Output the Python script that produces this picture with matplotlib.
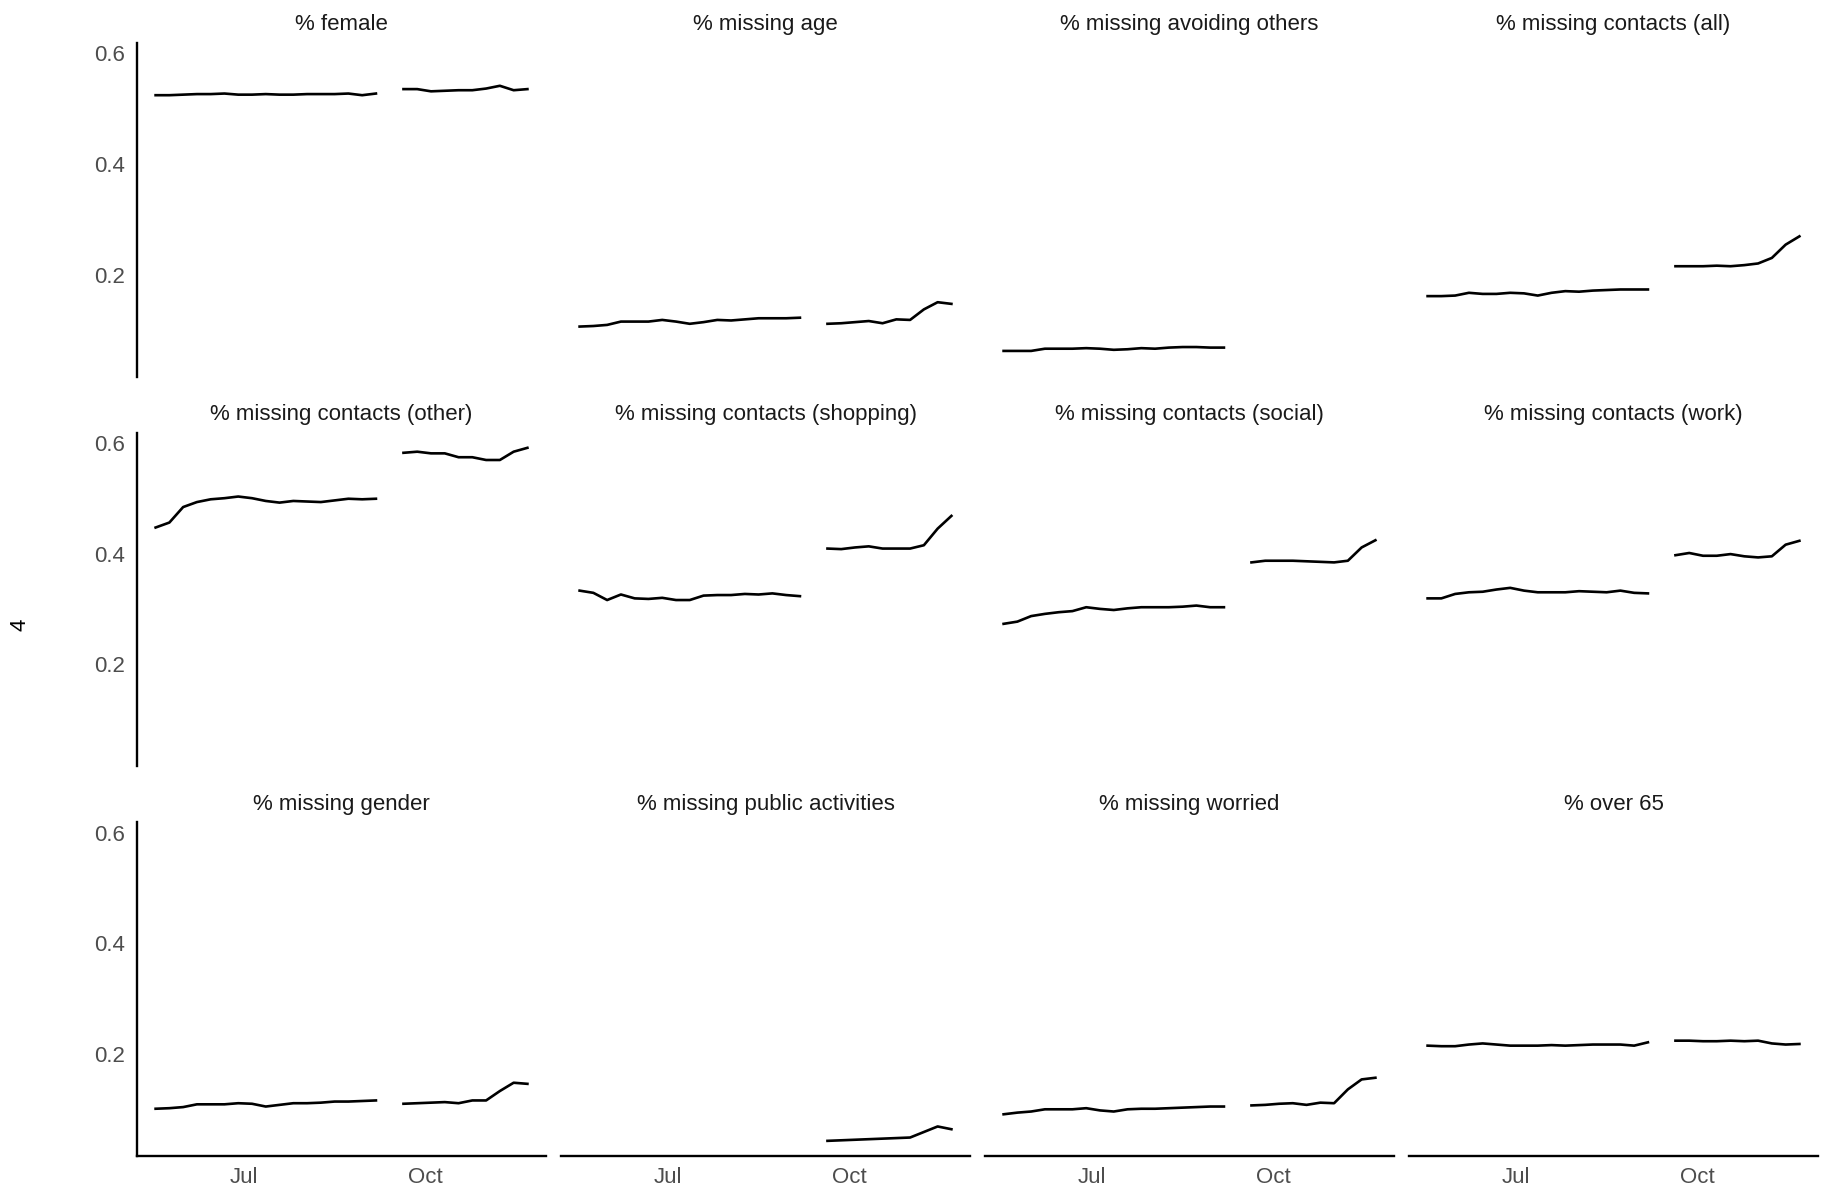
import numpy as np
import pandas as pd
import matplotlib
matplotlib.use("Agg")
import matplotlib.pyplot as plt
import matplotlib.dates as mdates

plt.rcParams['font.family'] = ['Liberation Sans', 'DejaVu Sans']

nan = np.nan

# weekly survey dates, week of 13 Sep has no data
weeks = pd.date_range('2020-05-17', periods=28, freq='7D')

titles = ['% female', '% missing age', '% missing avoiding others', '% missing contacts (all)',
          '% missing contacts (other)', '% missing contacts (shopping)', '% missing contacts (social)',
          '% missing contacts (work)', '% missing gender', '% missing public activities',
          '% missing worried', '% over 65']

female = [0.524, 0.524, 0.525, 0.526, 0.526, 0.527, 0.525, 0.525, 0.526, 0.525, 0.525, 0.526, 0.526, 0.526,
          0.527, 0.524, 0.527, nan,
          0.535, 0.535, 0.531, 0.532, 0.533, 0.533, 0.536, 0.541, 0.533, 0.535]
missing_age = [0.106, 0.107, 0.109, 0.115, 0.115, 0.115, 0.118, 0.115, 0.111, 0.114, 0.118, 0.117, 0.119, 0.121,
               0.121, 0.121, 0.122, nan,
               0.111, 0.112, 0.114, 0.116, 0.112, 0.119, 0.118, 0.137, 0.150, 0.147]
missing_avoiding = [0.062, 0.062, 0.062, 0.066, 0.066, 0.066, 0.067, 0.066, 0.064, 0.065, 0.067, 0.066, 0.068,
                    0.069, 0.069, 0.068, 0.068, nan,
                    nan, nan, nan, nan, nan, nan, nan, nan, nan, nan]
missing_contacts_all = [0.161, 0.161, 0.162, 0.167, 0.165, 0.165, 0.167, 0.166, 0.162, 0.167, 0.170, 0.169,
                        0.171, 0.172, 0.173, 0.173, 0.173, nan,
                        0.215, 0.215, 0.215, 0.216, 0.215, 0.217, 0.220, 0.230, 0.254, 0.269]
missing_contacts_other = [0.447, 0.456, 0.484, 0.493, 0.498, 0.500, 0.503, 0.500, 0.495, 0.492, 0.495, 0.494,
                          0.493, 0.496, 0.499, 0.498, 0.499, nan,
                          0.582, 0.584, 0.581, 0.581, 0.574, 0.574, 0.569, 0.569, 0.584, 0.591]
missing_contacts_shopping = [0.333, 0.329, 0.316, 0.326, 0.319, 0.318, 0.320, 0.316, 0.316, 0.324, 0.325,
                             0.325, 0.327, 0.326, 0.328, 0.325, 0.323, nan,
                             0.409, 0.408, 0.411, 0.413, 0.409, 0.409, 0.409, 0.415, 0.445, 0.468]
missing_contacts_social = [0.273, 0.277, 0.287, 0.291, 0.294, 0.296, 0.303, 0.300, 0.298, 0.301, 0.303, 0.303,
                           0.303, 0.304, 0.306, 0.303, 0.303, nan,
                           0.384, 0.387, 0.387, 0.387, 0.386, 0.385, 0.384, 0.387, 0.411, 0.424]
missing_contacts_work = [0.319, 0.319, 0.327, 0.330, 0.331, 0.335, 0.338, 0.333, 0.330, 0.330, 0.330, 0.332,
                         0.331, 0.330, 0.333, 0.329, 0.328, nan,
                         0.397, 0.401, 0.396, 0.396, 0.399, 0.395, 0.393, 0.395, 0.416, 0.423]
missing_gender = [0.101, 0.102, 0.104, 0.109, 0.109, 0.109, 0.111, 0.110, 0.105, 0.108, 0.111, 0.111, 0.112,
                  0.114, 0.114, 0.115, 0.116, nan,
                  0.110, 0.111, 0.112, 0.113, 0.111, 0.116, 0.116, 0.133, 0.148, 0.146]
missing_public = [nan, nan, nan, nan, nan, nan, nan, nan, nan, nan, nan, nan, nan, nan, nan, nan, nan, nan,
                  0.043, 0.044, 0.045, 0.046, 0.047, 0.048, 0.049, 0.059, 0.069, 0.064]
missing_worried = [0.091, 0.094, 0.096, 0.100, 0.100, 0.100, 0.102, 0.098, 0.096, 0.100, 0.101, 0.101, 0.102,
                   0.103, 0.104, 0.105, 0.105, nan,
                   0.107, 0.108, 0.110, 0.111, 0.108, 0.112, 0.111, 0.136, 0.154, 0.157]
over_65 = [0.215, 0.214, 0.214, 0.217, 0.219, 0.217, 0.215, 0.215, 0.215, 0.216, 0.215, 0.216, 0.217, 0.217,
           0.217, 0.215, 0.221, nan,
           0.224, 0.224, 0.223, 0.223, 0.224, 0.223, 0.224, 0.219, 0.217, 0.218]

series = [female, missing_age, missing_avoiding, missing_contacts_all,
          missing_contacts_other, missing_contacts_shopping, missing_contacts_social, missing_contacts_work,
          missing_gender, missing_public, missing_worried, over_65]

# shared scales with ggplot-like 5% expansion
allv = np.array(series, dtype=float)
lo, hi = np.nanmin(allv), np.nanmax(allv)
ylim = (lo - 0.05 * (hi - lo), hi + 0.05 * (hi - lo))
span = weeks[-1] - weeks[0]
xlim = (weeks[0] - 0.05 * span, weeks[-1] + 0.05 * span)

fig, axes = plt.subplots(3, 4, figsize=(18.22, 11.93), dpi=100, sharex=True, sharey=True)
fig.subplots_adjust(left=0.0752, right=0.9978, top=0.964, bottom=0.031, wspace=0.0367, hspace=0.168)

fs = 16
for i, ax in enumerate(axes.flat):
    r, c = divmod(i, 4)
    ax.plot(weeks, series[i], color='black', lw=1.9)
    ax.set_title(titles[i], fontsize=fs, color='#1A1A1A', pad=9)
    ax.set_xlim(xlim)
    ax.set_ylim(ylim)
    for s in ['top', 'right']:
        ax.spines[s].set_visible(False)
    for s in ['left', 'bottom']:
        ax.spines[s].set_linewidth(1.7)
    ax.spines['left'].set_visible(c == 0)
    ax.spines['bottom'].set_visible(r == 2)
    ax.tick_params(length=0, labelsize=fs, labelcolor='#4D4D4D')
    ax.tick_params(axis='y', pad=9, labelleft=(c == 0))
    ax.tick_params(axis='x', pad=8, labelbottom=(r == 2))

axes[0, 0].set_yticks([0.2, 0.4, 0.6])
axes[0, 0].xaxis.set_major_locator(mdates.MonthLocator(bymonth=[7, 10]))
axes[0, 0].xaxis.set_major_formatter(mdates.DateFormatter('%b'))

fig.text(0.011, 0.476, '4', rotation=90, fontsize=fs, ha='center', va='center', color='black')

fig.savefig('out.png', dpi=100)
